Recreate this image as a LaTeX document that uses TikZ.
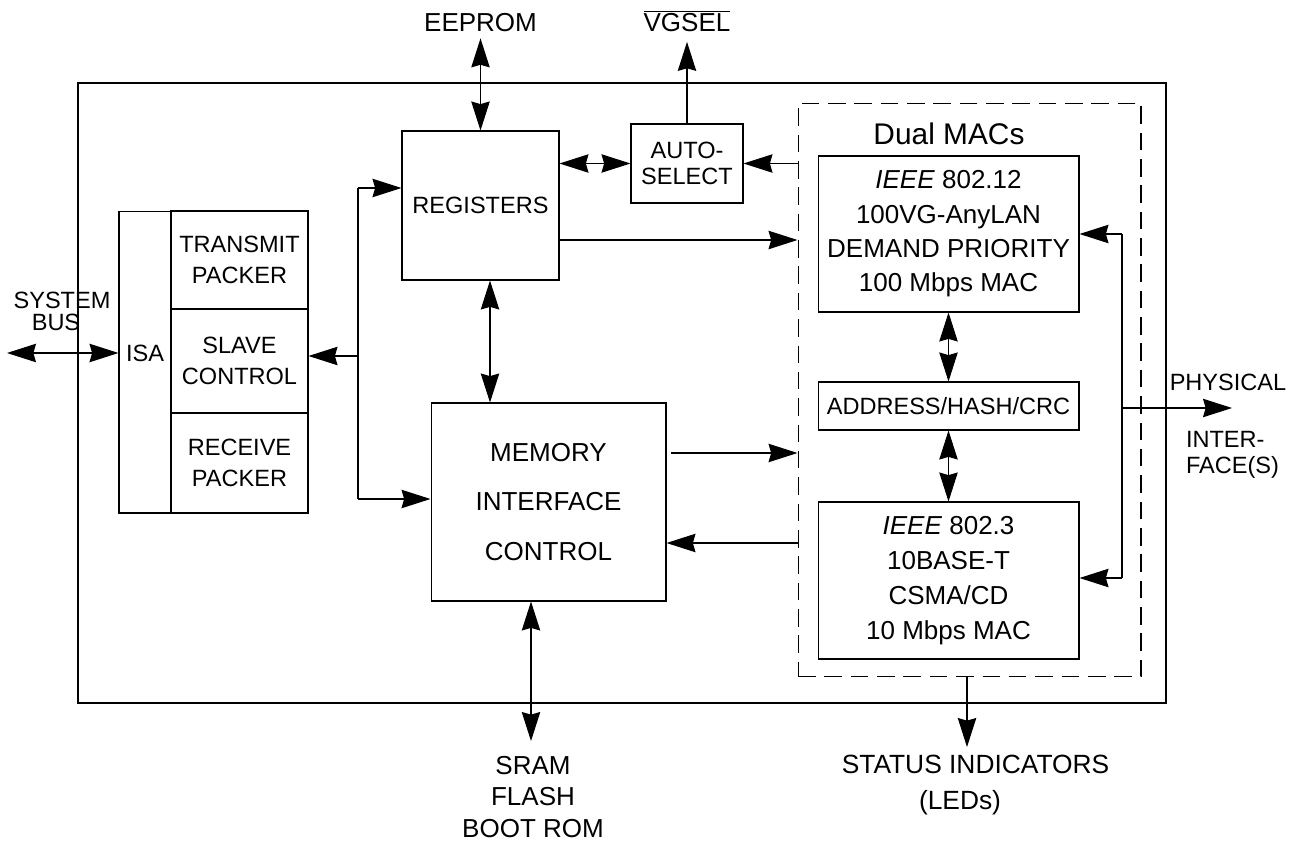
\documentclass[tikz,border=0pt]{standalone}
\usepackage{fontspec}
\setmainfont{Liberation Sans}
\usetikzlibrary{arrows.meta}

\begin{document}
\begin{tikzpicture}[x=0.02cm,y=-0.02cm,line width=0.6pt,
	font=\fontsize{14.8}{19}\selectfont,
	box/.style={draw,rectangle,inner sep=0pt,align=center},
	lbl/.style={inner sep=0pt,outer sep=0pt,align=center},
	small/.style={font=\fontsize{13.4}{18}\selectfont},
	arr/.style={-{Stealth[length=16.5pt,width=10.5pt,inset=1.5pt]}},
	darr/.style={{Stealth[length=16.5pt,width=10.5pt,inset=1.5pt]}-{Stealth[length=16.5pt,width=10.5pt,inset=1.5pt]}}]
			%\draw [help lines] (0,0) grid (1297,841);
			\useasboundingbox (0,0) rectangle (1297,841);
			\draw (78,83) rectangle (1166,703);

			% ISA block
			\node[box,minimum width=1.04cm,minimum height=6.04cm] (isacol) at (145,362) {};
			\node[lbl,small] (isa) at (145,353) {ISA};
			\node[box,small,minimum width=2.74cm,minimum height=1.96cm] (txp) at (239.5,260) {TRANSMIT\\PACKER};
			\node[box,small,minimum width=2.74cm,minimum height=2.08cm] (slv) at (239.5,361) {SLAVE\\CONTROL};
			\node[box,small,minimum width=2.74cm,minimum height=2.0cm] (rxp) at (239.5,463) {RECEIVE\\PACKER};

			\node[lbl,small] (sys) at (62,300) {SYSTEM};
			\node[lbl,small] (bus) at (56,322) {BUS};
			\coordinate (sb) at (7,353);
			\draw[darr] (sb) -- (sb -| isacol.west);

			% registers, auto-select
			\node[box,small,minimum width=3.14cm,minimum height=2.98cm] (regs) at (480.5,205.5) {REGISTERS};
			\node[lbl,anchor=base] (eeprom) at (480.5,32) {EEPROM};
			\draw[darr,shorten <=3.5pt] (eeprom) -- (regs);

			\node[box,minimum width=2.24cm,minimum height=1.58cm,font=\fontsize{13.4}{15}\selectfont] (autosel) at (687,163.5) {AUTO-\\SELECT};
			\node[lbl,anchor=base] (vgsel) at (687,32) {$\overline{\mbox{VGSEL}}$};
			\draw[arr,shorten >=5.5pt] (autosel) -- (vgsel);
			\draw[darr] (autosel.west -| regs.east) -- (autosel.west);

			% dual MACs
			\node[draw,dash pattern=on 10pt off 5pt,minimum width=6.86cm,minimum height=11.48cm] (macs) at (969.5,390) {};
			\node[lbl,font=\fontsize{17}{20}\selectfont] (dual) at (949,134) {Dual MACs};
			\node[box,minimum width=5.22cm,minimum height=3.12cm,font=\fontsize{14.8}{19.5}\selectfont] (mac12) at (948.5,234) {\textit{IEEE} 802.12\\100VG-AnyLAN\\DEMAND PRIORITY\\100 Mbps MAC};
			\node[box,small,minimum width=5.22cm,minimum height=0.96cm] (addr) at (948.5,406) {ADDRESS/HASH/CRC};
			\node[box,minimum width=5.22cm,minimum height=3.14cm,font=\fontsize{14.8}{20}\selectfont] (mac3) at (948.5,580.5) {\textit{IEEE} 802.3\\10BASE-T\\CSMA/CD\\10 Mbps MAC};
			\draw[darr] (mac12) -- (addr);
			\draw[darr] (addr) -- (mac3);

			\draw[arr] (macs.west |- autosel.east) -- (autosel.east);
			\draw[arr] (regs.east |- 0,240) -- (macs.west |- 0,240);

			% physical side
			\coordinate (rt) at (1122,234);
			\coordinate (rb) at (1122,578);
			\coordinate (ph) at (1122,408);
			\coordinate (phend) at (1232,408);
			\draw (rt) -- (rb);
			\draw[arr] (rt) -- (rt -| mac12.east);
			\draw[arr] (rb) -- (rb -| mac3.east);
			\draw[arr] (ph) -- (phend);
			\node[lbl,small] (phys) at (1228,382) {PHYSICAL};
			\node[lbl,anchor=west,align=left,font=\fontsize{13.4}{15}\selectfont] (iface) at (1186,455) {INTER-\\FACE(S)};

			% memory interface
			\node[box,minimum width=4.7cm,minimum height=3.96cm,font=\fontsize{14.8}{28}\selectfont] (mem) at (548.5,502) {MEMORY\\INTERFACE\\CONTROL};

			\coordinate (bt) at (358,188);
			\coordinate (bb) at (358,499);
			\draw (bt) -- (bb);
			\draw[arr] (bt) -- (bt -| regs.west);
			\draw[arr] (bb) -- (bb -| mem.west);
			\draw[arr] (bt |- 0,356) -- (slv.east |- 0,356);

			\coordinate (m1) at (671,453);
			\draw[arr] (m1) -- (m1 -| macs.west);
			\draw[arr] (macs.west |- 0,543) -- (mem.east |- 0,543);

			\coordinate (rm) at (490,0);
			\draw[darr] (regs.south -| rm) -- (mem.north -| rm);

			\coordinate (sr) at (531,741);
			\draw[darr] (mem.south -| sr) -- (sr);
			\node[lbl,font=\fontsize{14.8}{17.8}\selectfont] (sram) at (533,797) {SRAM\\FLASH\\BOOT ROM};

			\coordinate (st) at (967,747);
			\draw[arr] (macs.south -| st) -- (st);
			\node[lbl,font=\fontsize{15}{18}\selectfont] (status) at (975.5,764) {STATUS INDICATORS};
			\node[lbl,font=\fontsize{15}{18}\selectfont] (leds) at (960,803) {(LEDs)};
		\end{tikzpicture}
\end{document}
